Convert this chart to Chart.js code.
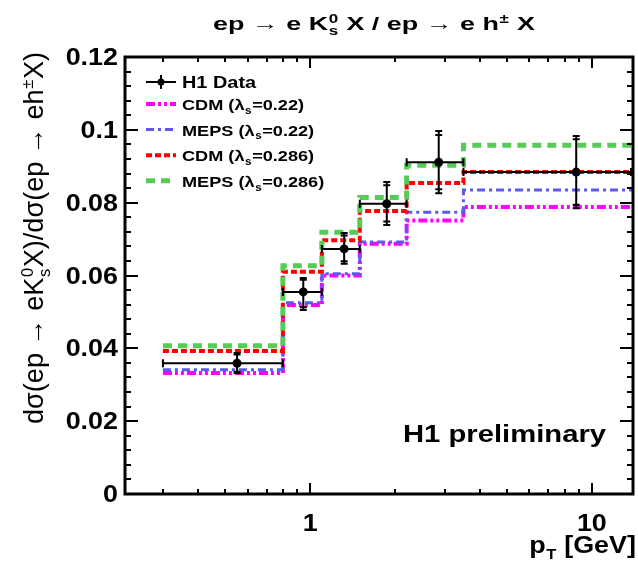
<!DOCTYPE html>
<html>
<head>
<meta charset="utf-8">
<script src="https://cdn.jsdelivr.net/npm/chart.js@4"></script>
<style>
  body { margin:0; background:#fff; }
  canvas { display:block; }
</style>
</head>
<body>
<canvas id="chart" width="638" height="571"></canvas>
<script>
// ===== DATA =====
const EDGES    = [0.3, 0.8, 1.1, 1.5, 2.2, 3.5, 14];      // pT bin edges [GeV]
const PT_X     = [0.55, 0.945, 1.32, 1.87, 2.86, 8.8];    // data point positions
const DATA_Y   = [0.0359, 0.0555, 0.0673, 0.0797, 0.0911, 0.0884];
const ERR_UP   = [0.0028, 0.0038, 0.0044, 0.0060, 0.0086, 0.0099];
const ERR_DN   = [0.0027, 0.0050, 0.0041, 0.0058, 0.0085, 0.0099];
const STAT_UP  = [0.0024, 0.0033, 0.0037, 0.0051, 0.0075, 0.0090];
const STAT_DN  = [0.0023, 0.0042, 0.0034, 0.0049, 0.0074, 0.0090];

const CDM_022   = [0.0332, 0.0519, 0.0600, 0.0687, 0.0751, 0.0788];
const MEPS_022  = [0.0341, 0.0525, 0.0605, 0.0692, 0.0774, 0.0835];
const CDM_0286  = [0.0393, 0.0610, 0.0697, 0.0777, 0.0854, 0.0884];
const MEPS_0286 = [0.0407, 0.0627, 0.0719, 0.0814, 0.0903, 0.0958];

const Y_TICKS = [0, 0.02, 0.04, 0.06, 0.08, 0.1, 0.12];
const X_LABELS = [1, 10];
const X_MINOR = [0.3,0.4,0.5,0.6,0.7,0.8,0.9,2,3,4,5,6,7,8,9];

const FONT = '"Liberation Sans", Arial, sans-serif';
const SX = 1.17;   // reference text is a bit wider than Arial

// ===== RICH TEXT (sub/superscripts) =====
function measureParts(ctx, parts, size, bold){
    let w = 0;
    parts.forEach(p=>{
        if(typeof p === "string"){
            ctx.font = (bold?"bold ":"")+size+"px "+FONT;
            w += ctx.measureText(p).width;
        } else {
            ctx.font = (bold?"bold ":"")+Math.round(size*0.62)+"px "+FONT;
            let a = p.sup ? ctx.measureText(p.sup).width : 0;
            let b = p.sub ? ctx.measureText(p.sub).width : 0;
            w += Math.max(a,b) + 1;
        }
    });
    return w;
}

function rich(ctx, parts, x, y, o){
    let size = o.size, bold = o.bold;
    let w = measureParts(ctx, parts, size, bold);
    let along = o.width ? o.width / w : (o.sx || SX);
    ctx.save();
    ctx.translate(x, y);
    if(o.rot) ctx.rotate(o.rot);
    ctx.scale(along, o.sy || 1);
    ctx.fillStyle = "#000";
    ctx.textBaseline = o.baseline || "alphabetic";
    let cx = o.align==="right" ? -w : o.align==="center" ? -w/2 : 0;
    parts.forEach(p=>{
        if(typeof p === "string"){
            ctx.font = (bold?"bold ":"")+size+"px "+FONT;
            ctx.fillText(p, cx, 0);
            cx += ctx.measureText(p).width;
        } else {
            ctx.font = (bold?"bold ":"")+Math.round(size*0.62)+"px "+FONT;
            let a = p.sup ? ctx.measureText(p.sup).width : 0;
            let b = p.sub ? ctx.measureText(p.sub).width : 0;
            if(p.sup) ctx.fillText(p.sup, cx+0.5, -size*0.38);
            if(p.sub) ctx.fillText(p.sub, cx+0.5, size*0.25);
            cx += Math.max(a,b) + 1;
        }
    });
    ctx.restore();
}

// ===== LEGEND ENTRIES =====
const LEGEND = [
    {parts:["H1 Data"], data:true},
    {parts:["CDM (λ",{sub:"s"},"=0.22)"],   color:"#ff00ff", width:4, dash:[9,3,3,3,3,3]},
    {parts:["MEPS (λ",{sub:"s"},"=0.22)"],  color:"#5a5aee", width:3, dash:[8,4,3,4]},
    {parts:["CDM (λ",{sub:"s"},"=0.286)"],  color:"#ff0000", width:4, dash:[6,3]},
    {parts:["MEPS (λ",{sub:"s"},"=0.286)"], color:"#55cc55", width:5, dash:[9,6]}
];

// ===== ERROR BARS =====
function drawErrors(chart){
    const ctx = chart.ctx, xs = chart.scales.x, ys = chart.scales.y, ca = chart.chartArea;
    ctx.save();
    ctx.strokeStyle = "#000";
    ctx.lineWidth = 2;
    PT_X.forEach((xv,i)=>{
        let px = xs.getPixelForValue(xv);
        let py = ys.getPixelForValue(DATA_Y[i]);
        let x0 = xs.getPixelForValue(EDGES[i]);
        let x1 = Math.min(xs.getPixelForValue(EDGES[i+1]), ca.right-2);
        let yt = ys.getPixelForValue(DATA_Y[i]+ERR_UP[i]);
        let yb = ys.getPixelForValue(DATA_Y[i]-ERR_DN[i]);
        let st = ys.getPixelForValue(DATA_Y[i]+STAT_UP[i]);
        let sb = ys.getPixelForValue(DATA_Y[i]-STAT_DN[i]);
        ctx.beginPath();
        ctx.moveTo(x0, py); ctx.lineTo(x1, py);
        ctx.moveTo(x0, py-4); ctx.lineTo(x0, py+4);
        ctx.moveTo(x1, py-4); ctx.lineTo(x1, py+4);
        ctx.moveTo(px, yt); ctx.lineTo(px, yb);
        [yt, yb, st, sb].forEach(c=>{ ctx.moveTo(px-3.5, c); ctx.lineTo(px+3.5, c); });
        ctx.stroke();
    });
    ctx.restore();
}

// ===== FRAME, TICKS, TEXT =====
const decor = {
    id:"decor",
    beforeDatasetDraw(chart, args){
        if(args.index === 0) drawErrors(chart);
    },
    afterDraw(chart){
        const ctx = chart.ctx, xs = chart.scales.x, ys = chart.scales.y, ca = chart.chartArea;
        ctx.save();
        ctx.strokeStyle = "#000";

        // ticks
        ctx.lineWidth = 2;
        ctx.beginPath();
        for(let k=0;k<=30;k++){
            let v = k*0.004;
            let py = Math.round(ys.getPixelForValue(v));
            let len = (k%5===0) ? 13 : 6;
            ctx.moveTo(ca.left, py); ctx.lineTo(ca.left+len, py);
            ctx.moveTo(ca.right, py); ctx.lineTo(ca.right-len, py);
        }
        X_MINOR.concat(X_LABELS).forEach(v=>{
            let px = Math.round(xs.getPixelForValue(v));
            let len = X_LABELS.includes(v) ? 11 : 5;
            ctx.moveTo(px, ca.bottom); ctx.lineTo(px, ca.bottom-len);
            ctx.moveTo(px, ca.top); ctx.lineTo(px, ca.top+len);
        });
        ctx.stroke();

        // frame
        ctx.lineWidth = 3;
        ctx.strokeRect(ca.left, ca.top, ca.right-ca.left, ca.bottom-ca.top);

        // tick labels
        Y_TICKS.forEach(v=>{
            let py = ys.getPixelForValue(v);
            rich(ctx, [String(+v.toFixed(2))], 118, py+8, {size:23, bold:true, align:"right"});
        });
        X_LABELS.forEach(v=>{
            let px = xs.getPixelForValue(v);
            rich(ctx, [String(v)], px, 531, {size:23, bold:true, align:"center"});
        });

        // axis titles
        rich(ctx, ["p",{sub:"T"}," [GeV]"], 636, 553, {size:23, bold:true, align:"right"});
        rich(ctx, ["dσ(ep → eK",{sup:"0",sub:"s"},"X)/dσ(ep → eh",{sup:"±"},"X)"], 43, 238,
             {size:23, bold:false, align:"center", rot:-Math.PI/2, width:372, sy:SX});

        // title
        rich(ctx, ["ep → e K",{sup:"0",sub:"s"}," X / ep → e h",{sup:"±"}," X"], 374, 30,
             {size:19, bold:true, align:"center", width:322});

        // H1 preliminary
        rich(ctx, ["H1 preliminary"], 403, 442, {size:24, bold:true, width:203});

        // legend
        LEGEND.forEach((e,i)=>{
            let ly = i===0 ? 82 : 104 + (i-1)*25.6;
            if(e.data){
                ctx.lineWidth = 2;
                ctx.setLineDash([]);
                ctx.beginPath();
                ctx.moveTo(146, ly); ctx.lineTo(176, ly);
                ctx.moveTo(161, ly-7); ctx.lineTo(161, ly+7);
                ctx.stroke();
                ctx.beginPath();
                ctx.fillStyle = "#000";
                ctx.arc(161, ly, 3.5, 0, Math.PI*2);
                ctx.fill();
                rich(ctx, e.parts, 182, ly+6, {size:17, bold:true});
            } else {
                ctx.strokeStyle = e.color;
                ctx.lineWidth = e.width;
                ctx.setLineDash(e.dash);
                ctx.beginPath();
                ctx.moveTo(146, ly); ctx.lineTo(176, ly);
                ctx.stroke();
                ctx.setLineDash([]);
                ctx.strokeStyle = "#000";
                rich(ctx, e.parts, 182, ly+6, {size:15.5, bold:true});
            }
        });
        ctx.restore();
    }
};

// ===== CHART =====
// histogram outline: each bin gives its left and right corner
function stepData(vals){
    let pts = [];
    vals.forEach((v,i)=>{
        pts.push({x:EDGES[i], y:v});
        pts.push({x:EDGES[i+1], y:v});
    });
    return pts;
}
function model(vals, lg, order){
    return {
        type:"line", data:stepData(vals),
        borderColor:lg.color, borderWidth:lg.width, borderDash:lg.dash,
        pointRadius:0, fill:false, order:order, tension:0
    };
}

const ctx = document.getElementById("chart").getContext("2d");
new Chart(ctx, {
    type:"scatter",
    data:{
        datasets:[
            {
                type:"scatter",
                data:PT_X.map((x,i)=>({x:x, y:DATA_Y[i]})),
                pointRadius:4.5, pointBackgroundColor:"#000", pointBorderColor:"#000",
                pointBorderWidth:0, order:0
            },
            model(MEPS_0286, LEGEND[4], 1),
            model(CDM_0286,  LEGEND[3], 2),
            model(MEPS_022,  LEGEND[2], 3),
            model(CDM_022,   LEGEND[1], 4)
        ]
    },
    options:{
        responsive:false,
        animation:false,
        layout:{padding:{top:57, right:5, left:0, bottom:0}},
        plugins:{legend:{display:false}, tooltip:{enabled:false}},
        scales:{
            x:{
                type:"logarithmic", min:0.22, max:14,
                ticks:{display:false}, grid:{display:false}, border:{display:false},
                afterFit:s=>{ s.height = 77; }
            },
            y:{
                min:0, max:0.12,
                ticks:{display:false, stepSize:0.02}, grid:{display:false}, border:{display:false},
                afterFit:s=>{ s.width = 125; }
            }
        }
    },
    plugins:[decor]
});
</script>
</body>
</html>
